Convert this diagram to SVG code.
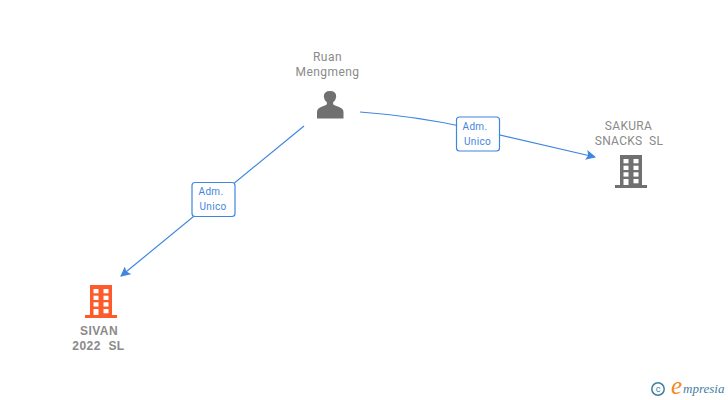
<svg xmlns="http://www.w3.org/2000/svg" width="728" height="400" viewBox="0 0 728 400">
<style>
text{font-family:"Roboto","Liberation Sans",sans-serif}
.n{font-size:12px;fill:#8a8a8a;text-anchor:middle;letter-spacing:.45px;white-space:pre}
.s{letter-spacing:.3px}
.b{font-weight:700;font-family:"Liberation Sans",sans-serif}
.e{font-size:10px;fill:#3f86e0;text-anchor:middle;letter-spacing:.3px}
.box{fill:#fff;stroke:#3f86e0;stroke-width:1.2}
.c{fill:none;stroke:#3f86e0;stroke-width:1.2}
.w{fill:#fff}
</style>
<defs>
<marker id="a" markerUnits="userSpaceOnUse" markerWidth="12" markerHeight="12" refX="9" refY="5" orient="auto"><path d="M0 0L10 5L0 10L2 5Z" fill="#3f86e0"/></marker>
<g id="bld">
<path d="M0 0H22V30H27V33H-5V30H0Z"/>
<g class="w"><rect x="3.500" y="4" width="5" height="4.300"/><rect x="13.500" y="4" width="5" height="4.300"/><rect x="3.500" y="10.700" width="5" height="4.300"/><rect x="13.500" y="10.700" width="5" height="4.300"/><rect x="3.500" y="17.300" width="5" height="4.300"/><rect x="13.500" y="17.300" width="5" height="4.300"/><rect x="3.500" y="24" width="5" height="6"/><rect x="13.500" y="24" width="5" height="4.300"/></g>
</g>
</defs>
<g id="connectors">
<path class="c" d="M304 126L121 276" marker-end="url(#a)"/>
<path class="c" d="M360 112Q415 116 470 128L595 157" marker-end="url(#a)"/>
</g>
<g id="edge-label-1"><rect class="box" x="192" y="182.500" width="43" height="34" rx="3"/><text class="e" x="211" y="195">Adm.</text><text class="e" x="213" y="210">Unico</text></g>
<g id="edge-label-2"><rect class="box" x="456.500" y="117" width="43" height="34" rx="3"/><text class="e" x="475" y="130">Adm.</text><text class="e" x="477.500" y="145">Unico</text></g>
<g id="person">
<text class="n" x="327.500" y="61">Ruan</text><text class="n" x="327.500" y="76">Mengmeng</text>
<path fill="#707070" d="M317 118.500V112Q317 108.500 321 107L326 105Q327 104.500 327 102.500Q323.800 99.500 323.800 96.500Q323.800 91 330 91Q336.200 91 336.200 96.500Q336.200 99.500 333 102.500Q333 104.500 334 105L339 107Q343.500 108.500 343.500 112V118.500Z"/>
</g>
<g id="sakura" fill="#707070">
<text class="n s" x="628.500" y="130">SAKURA</text><text class="n s" x="629" y="145" xml:space="preserve">SNACKS  SL</text>
<use href="#bld" x="620" y="155"/>
</g>
<g id="sivan" fill="#ff5a2b">
<text class="n b" x="99" y="335">SIVAN</text><text class="n b" x="98.500" y="350" xml:space="preserve">2022  SL</text>
<use href="#bld" x="90" y="285"/>
</g>
<g id="credit">
<circle cx="658" cy="389" r="6.200" fill="none" stroke="#3f7f9f" stroke-width="1.500"/>
<text x="658" y="392" font-size="9" fill="#3f7f9f" text-anchor="middle">c</text>
<text x="671" y="394" font-size="25" font-style="italic" fill="#f08a1d" style="font-family:'Liberation Serif',serif">e</text>
<text x="683" y="393" font-size="13" font-style="italic" fill="#3f7f9f" style="font-family:'Liberation Serif',serif">mpresia</text>
</g>
</svg>
